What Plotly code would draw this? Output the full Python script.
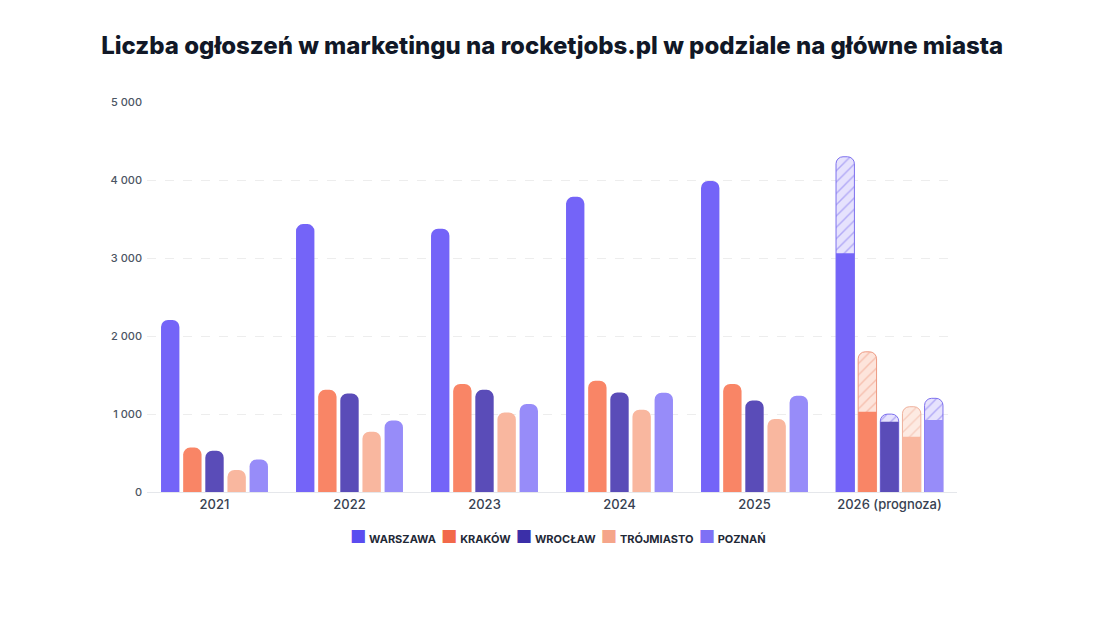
import plotly.graph_objects as go

years = ["2021", "2022", "2023", "2024", "2025", "2026 (prognoza)"]
cities = ["WARSZAWA", "KRAKÓW", "WROCŁAW", "TRÓJMIASTO", "POZNAŃ"]

# stan faktyczny (2026 = dane do tej pory)
warszawa = [2210, 3440, 3380, 3790, 3995, 3065]
krakow = [570, 1312, 1386, 1428, 1386, 1030]
wroclaw = [530, 1265, 1312, 1277, 1174, 902]
trojmiasto = [282, 774, 1020, 1056, 937, 710]
poznan = [418, 918, 1130, 1274, 1235, 924]

# prognoza na caly 2026
forecast_2026 = [4305, 1800, 1000, 1095, 1203]

colors = ["#7464f8", "#f98566", "#5a4cb8", "#f9b79f", "#978cf9"]
legend_colors = ["#5b4cf0", "#f2694a", "#3b2fa8", "#f5a58a", "#7f70f5"]
hatch_bg = ["#e6e2fd", "#fde4db", "#e6e2fd", "#fdeae2", "#e6e2fd"]
hatch_fg = ["#7d70ee", "#ee9a82", "#7d70ee", "#efb09b", "#7d70ee"]

values = [warszawa, krakow, wroclaw, trojmiasto, poznan]

fig = go.Figure()

for i, city in enumerate(cities):
    vals = values[i]
    # prognoza - kreskowany slupek od zera do wartosci prognozy
    fig.add_trace(go.Bar(
        x=[years[-1]], y=[forecast_2026[i]],
        offsetgroup=str(i),
        marker=dict(color=hatch_bg[i], cornerradius=7,
                    line=dict(color=hatch_fg[i], width=1),
                    pattern=dict(shape="/", fgcolor=hatch_fg[i], bgcolor=hatch_bg[i],
                                 size=8, solidity=0.18)),
        showlegend=False, hoverinfo="skip",
    ))
    # lata 2021-2025
    fig.add_trace(go.Bar(
        x=years[:-1], y=vals[:-1],
        name=city, offsetgroup=str(i),
        marker=dict(color=colors[i], cornerradius=7, line=dict(width=0)),
        showlegend=False,
    ))
    # 2026 stan faktyczny - plaska gora
    fig.add_trace(go.Bar(
        x=[years[-1]], y=[vals[-1]],
        offsetgroup=str(i),
        marker=dict(color=colors[i], line=dict(width=0)),
        showlegend=False,
    ))

# kompaktowa legenda jako tekst
legend_text = "  ".join(
    f"<span style='color:{c};font-size:18px'>■</span> {name}"
    for c, name in zip(legend_colors, cities)
)
fig.add_annotation(
    text=legend_text, xref="paper", yref="paper",
    x=0.507, xanchor="center", y=-0.115, yanchor="middle",
    showarrow=False,
    font=dict(family="Inter", size=11, color="#1f2937", weight=700),
)

fig.update_layout(
    width=1105, height=642,
    paper_bgcolor="white", plot_bgcolor="white",
    barmode="group", bargap=0.18, bargroupgap=0.17,
    margin=dict(l=139, r=156, t=94, b=158),
    title=dict(
        text="Liczba ogłoszeń w marketingu na rocketjobs.pl w podziale na główne miasta",
        x=0.4925, xanchor="center", y=0.941, yanchor="middle",
        font=dict(family="Inter", size=24, color="#111827", weight=800),
    ),
    font=dict(family="Inter", color="#374151"),
    showlegend=False,
)

fig.update_xaxes(
    type="category", categoryorder="array", categoryarray=years,
    showgrid=False, showline=True, linecolor="#e5e7eb", linewidth=1,
    ticks="", tickfont=dict(family="Inter", size=13, color="#374151", weight=500),
)
fig.update_yaxes(
    range=[0, 5008], tickvals=[0, 1000, 2000, 3000, 4000, 5000],
    ticktext=["0", "1 000", "2 000", "3 000", "4 000", "5 000"],
    showgrid=True, gridcolor="#ededed", griddash="dash", gridwidth=1,
    zeroline=False, showline=False, ticks="", ticklabelstandoff=4,
    tickfont=dict(family="Inter", size=11, color="#4b5563", weight=500),
)

fig.write_html("out.html")
